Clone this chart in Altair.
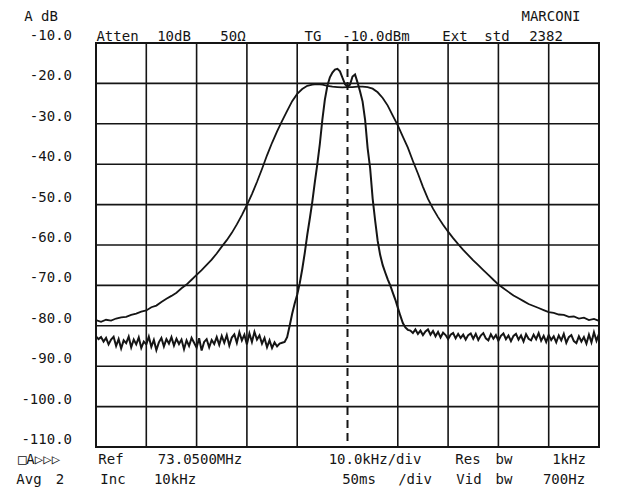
import altair as alt
import pandas as pd
import numpy as np

# ---------------- data ----------------
# broad (wide) filter response, 1 kHz steps from -50 to +50 kHz
broad_x = list(range(-50, 51))
broad_db = [
    -78.6, -79.0, -78.5, -78.7, -78.2, -77.9, -77.8, -77.3, -77.0, -76.5,
    -76.2, -75.4, -75.0, -74.1, -73.3, -72.6, -71.8, -70.7, -69.8, -68.6,
    -67.4, -66.2, -64.9, -63.6, -62.1, -60.4, -58.8, -57.0, -54.9, -52.6,
    -50.1, -47.4, -44.4, -41.2, -37.8, -34.7, -31.9, -29.3, -26.8, -24.4,
    -22.6, -21.4, -20.6, -20.3, -20.2, -20.3, -20.6, -20.8, -20.9, -21.0,
    -20.9, -20.9, -20.8, -20.8, -20.9, -21.3, -22.2, -23.6, -25.5, -28.0,
    -30.4, -33.2, -35.9, -39.2, -42.3, -45.6, -48.6, -51.0, -53.1, -55.0,
    -56.7, -58.3, -59.8, -61.2, -62.5, -63.8, -65.0, -66.2, -67.4, -68.6,
    -69.8, -70.7, -71.6, -72.5, -73.2, -73.9, -74.6, -75.1, -75.6, -76.1,
    -76.6, -76.8, -77.2, -77.3, -77.8, -77.7, -78.2, -78.0, -78.6, -78.3,
    -78.8,
]

# narrow filter response, 0.5 kHz steps from -50 to +50 kHz
narrow_left_floor = [
    -82.6, -83.3, -82.8, -83.9, -83.0, -84.6, -83.4, -82.7, -85.0, -83.3,
    -85.6, -83.6, -84.3, -82.7, -85.3, -83.4, -84.6, -82.9, -85.5, -83.9,
    -84.6, -82.7, -85.2, -83.5, -86.0, -84.1, -83.0, -85.1, -83.3, -84.4,
    -82.8, -84.9, -83.2, -84.5, -83.4, -85.8, -83.6, -85.0, -83.0, -84.2,
    -85.4, -83.1, -86.1, -84.0, -83.3, -85.3, -83.5, -84.5, -82.8, -84.7,
    -82.5, -84.2, -82.3, -84.9, -82.9, -82.1, -84.2, -81.6, -83.6, -82.2,
    -84.6, -81.9, -84.0, -81.5, -83.4, -82.4, -84.4, -83.0, -85.3, -83.6,
    -85.5, -84.1, -85.1, -84.4, -84.2,
]
narrow_passband = [
    -84.0, -82.8, -80.0, -77.0, -74.5, -72.3, -69.5, -66.0, -62.0, -57.5,
    -53.5, -49.3, -44.5, -40.0, -35.0, -29.0, -24.0, -20.6, -18.5, -17.3,
    -16.6, -16.4, -17.0, -18.6, -20.2, -20.8, -20.3, -18.3, -17.8, -19.8,
    -22.0, -24.5, -29.0, -36.0, -41.0, -48.5, -54.0, -59.0, -62.5, -65.0,
    -66.8, -68.5, -70.0, -71.8, -73.5, -75.5, -77.5, -79.3, -80.4, -81.0,
]
narrow_right_floor = [
    -81.2, -81.8, -80.9, -82.0, -81.2, -82.3, -81.4, -80.9, -82.2, -81.3,
    -82.6, -81.5, -82.9, -81.7, -82.3, -83.3, -82.2, -81.8, -83.1, -82.0,
    -83.0, -82.2, -83.4, -82.3, -81.9, -83.2, -82.0, -83.5, -82.4, -81.8,
    -83.1, -83.6, -82.1, -83.2, -82.3, -83.7, -82.5, -81.9, -83.3, -82.4,
    -83.8, -82.5, -82.0, -83.4, -82.4, -83.9, -82.1, -83.2, -83.6, -82.2,
    -83.3, -81.8, -83.7, -82.5, -84.0, -82.3, -83.5, -82.6, -84.1, -82.4,
    -83.6, -82.0, -84.2, -82.8, -82.3, -83.8, -84.3, -82.6, -83.9, -82.8,
    -84.4, -82.2, -84.1, -81.6, -83.7, -82.0,
]
narrow_db = narrow_left_floor + narrow_passband + narrow_right_floor
narrow_x = list(np.arange(-50, 50.01, 0.5))

grid_x = [-40, -30, -20, -10, 10, 20, 30, 40]
grid_y = [-20, -30, -40, -50, -60, -70, -80, -90, -100]
tick_db = [-10, -20, -30, -40, -50, -60, -70, -80, -90, -100, -110]
tick_labels = ["-10.0", "-20.0", "-30.0", "-40.0", "-50.0", "-60.0",
               "-70.0", "-80.0", "-90.0", "-100.0", "-110.0"]

INK = "#151515"
FONT = "DejaVu Sans Mono"
FS = 14

xs = alt.Scale(domain=[-50, 50], nice=False, zero=False)
ys = alt.Scale(domain=[-110, -10], nice=False, zero=False)

broad = pd.DataFrame({"f": broad_x, "db": broad_db})
narrow = pd.DataFrame({"f": narrow_x, "db": narrow_db})

vgrid = alt.Chart(pd.DataFrame({"f": grid_x})).mark_rule(
    color=INK, strokeWidth=1.6).encode(x=alt.X("f:Q", scale=xs, axis=None))
hgrid = alt.Chart(pd.DataFrame({"db": grid_y})).mark_rule(
    color=INK, strokeWidth=1.6).encode(y=alt.Y("db:Q", scale=ys, axis=None))
center = alt.Chart(pd.DataFrame({"f": [0]})).mark_rule(
    color=INK, strokeWidth=2, strokeDash=[8, 5]).encode(
    x=alt.X("f:Q", scale=xs, axis=None))

broad_line = alt.Chart(broad).mark_line(color=INK, strokeWidth=1.8).encode(
    x=alt.X("f:Q", scale=xs, axis=None),
    y=alt.Y("db:Q", scale=ys, axis=None),
)
narrow_line = alt.Chart(narrow).mark_line(color=INK, strokeWidth=2.0).encode(
    x=alt.X("f:Q", scale=xs, axis=None),
    y=alt.Y("db:Q", scale=ys, axis=None),
)

ylab = alt.Chart(pd.DataFrame({"db": tick_db, "lab": tick_labels})).mark_text(
    font=FONT, fontSize=FS, color=INK, align="right", baseline="alphabetic", dy=-3
).encode(x=alt.value(-24), y=alt.Y("db:Q", scale=ys, axis=None), text="lab:N")


def label(txt, cx, y):
    # cx: centre of the word relative to the plot's left edge
    return alt.Chart(pd.DataFrame({"t": [txt]})).mark_text(
        font=FONT, fontSize=FS, color=INK, align="center", baseline="alphabetic"
    ).encode(x=alt.value(cx), y=alt.value(y), text="t:N")


texts = [
    label("A dB", -55, -22),
    label("MARCONI", 455, -22),
    label("Atten", 21.5, -2),
    label("10dB", 78, -2),
    label("50\u03a9", 137, -2),
    label("TG", 217, -2),
    label("-10.0dBm", 280, -2),
    label("Ext", 359, -2),
    label("std", 401, -2),
    label("2382", 450, -2),
    label("\u25a1A\u25b7\u25b7\u25b7", -57, 421),
    label("Ref", 15, 421),
    label("73.0500MHz", 104, 421),
    label("10.0kHz/div", 279, 421),
    label("Res", 372, 421),
    label("bw", 408, 421),
    label("1kHz", 473, 421),
    label("Avg", -67, 441),
    label("2", -36, 441),
    label("Inc", 17, 441),
    label("10kHz", 79, 441),
    label("50ms", 263, 441),
    label("/div", 319, 441),
    label("Vid", 373, 441),
    label("bw", 408, 441),
    label("700Hz", 468, 441),
]

chart = alt.layer(vgrid, hgrid, center, broad_line, narrow_line, ylab, *texts).properties(
    width=503, height=404,
    autosize=alt.AutoSizeParams(type="none"),
    padding={"left": 88, "top": 35, "right": 19, "bottom": 41},
    background="white",
).configure_view(stroke=INK, strokeWidth=2)

chart.save("out.html", embed_options={"renderer": "svg", "actions": False})
